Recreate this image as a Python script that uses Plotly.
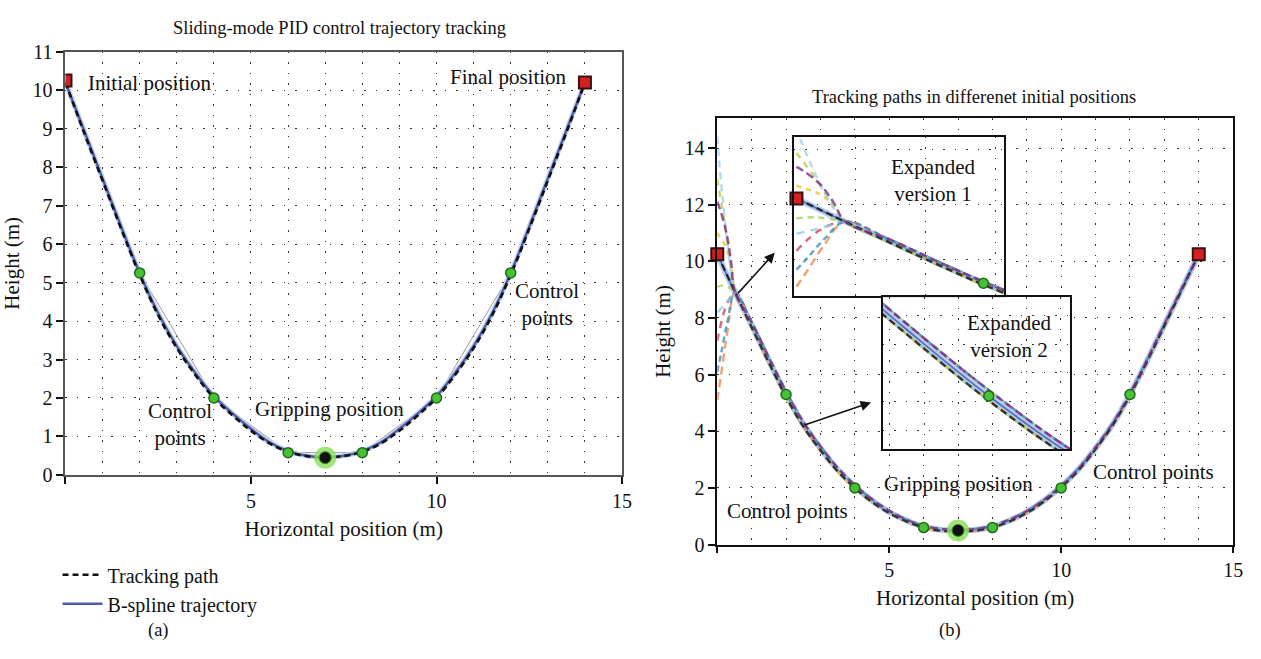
import plotly.graph_objects as go

# ---------------- panel (a): single trajectory ----------------
a_curve_x = [0, 0.5, 1, 1.5, 2, 2.5, 3, 3.5, 4, 4.5, 5, 5.5, 6, 6.5, 7,
             7.5, 8, 8.5, 9, 9.5, 10, 10.5, 11, 11.5, 12, 12.5, 13, 13.5, 14]
a_spline_y = [10.2, 8.95, 7.7, 6.45, 5.25, 4.2, 3.35, 2.65, 2.05, 1.6, 1.2, 0.85, 0.62, 0.5, 0.46,
              0.5, 0.62, 0.85, 1.2, 1.6, 2.05, 2.65, 3.35, 4.2, 5.25, 6.45, 7.7, 8.95, 10.2]
a_track_y = [10.2, 8.9, 7.65, 6.4, 5.2, 4.15, 3.3, 2.6, 2.0, 1.55, 1.15, 0.82, 0.6, 0.49, 0.46,
             0.49, 0.6, 0.82, 1.15, 1.55, 2.0, 2.6, 3.3, 4.15, 5.2, 6.4, 7.65, 8.9, 10.2]
a_poly_x = [0, 2, 4, 6, 8, 10, 12, 14]
a_poly_y = [10.25, 5.25, 2.0, 0.58, 0.58, 2.0, 5.25, 10.25]
a_end_x = [0, 14]
a_end_y = [10.25, 10.2]
a_ctrl_x = [2, 4, 6, 8, 10, 12]
a_ctrl_y = [5.25, 2.0, 0.58, 0.58, 2.0, 5.25]
a_grip_x = [7]
a_grip_y = [0.45]

# ---------------- panel (b): several initial positions ----------------
b_curve_x = [0, 0.52, 1, 1.5, 2, 2.5, 3, 3.5, 4, 4.5, 5, 5.5, 6, 6.5, 7,
             7.5, 8, 8.5, 9, 9.5, 10, 10.5, 11, 11.5, 12, 12.5, 13, 13.5, 14]
b_spline_y = [10.25, 8.9, 7.75, 6.5, 5.3, 4.25, 3.4, 2.65, 2.05, 1.55, 1.15, 0.85, 0.63, 0.52, 0.5,
              0.52, 0.63, 0.85, 1.15, 1.55, 2.05, 2.65, 3.4, 4.25, 5.3, 6.5, 7.75, 9.0, 10.25]
# common part of the tracking paths after they merge (two slightly offset bands)
tail_x = [1, 1.5, 2, 2.5, 3, 3.5, 4, 4.5, 5, 5.5, 6, 6.5, 7,
          7.5, 8, 8.5, 9, 9.5, 10, 10.5, 11, 11.5, 12, 12.5, 13, 13.5, 14]
tail_upper_y = [7.85, 6.6, 5.4, 4.33, 3.47, 2.71, 2.1, 1.6, 1.19, 0.88, 0.66, 0.55, 0.52,
                0.55, 0.66, 0.88, 1.18, 1.58, 2.08, 2.68, 3.43, 4.28, 5.33, 6.53, 7.78, 9.02, 10.25]
tail_lower_y = [7.67, 6.42, 5.22, 4.17, 3.33, 2.59, 2.0, 1.5, 1.11, 0.82, 0.6, 0.49, 0.48,
                0.49, 0.6, 0.82, 1.12, 1.52, 2.02, 2.62, 3.37, 4.22, 5.27, 6.47, 7.72, 8.98, 10.25]

# approach segments from each initial position to the merge point
# (warm colours first, so the cooler ones end up on top of the bundle)
path_colors = ["#ec8a50", "#d0405a", "#f0c020", "#b8cc3c", "#a9d15a",
               "#9fd3ee", "#8fcbe8", "#3a8ec4", "#111111", "#7e2a90"]
path_start_x = [
    [0.0, 0.1, 0.28, 0.52],
    [0.0, 0.14, 0.28, 0.52],
    [0.0, 0.05, 0.25, 0.42, 0.52],
    [0.0, 0.05, 0.18, 0.35, 0.52],
    [0.0, 0.2, 0.4, 0.52],
    [0.0, 0.05, 0.15, 0.3, 0.52],
    [0.0, 0.2, 0.4, 0.52],
    [0.0, 0.12, 0.3, 0.52],
    [0.0, 0.25, 0.52],
    [0.0, 0.05, 0.25, 0.4, 0.52],
]
path_start_y = [
    [5.1, 5.9, 7.4, 8.9],
    [7.2, 7.95, 8.5, 8.9],
    [11.0, 10.9, 10.5, 9.7, 8.9],
    [12.9, 12.55, 11.6, 10.2, 8.9],
    [9.1, 9.15, 9.02, 8.9],
    [14.4, 13.6, 12.3, 10.6, 8.9],
    [8.2, 8.45, 8.75, 8.9],
    [6.1, 6.8, 7.9, 8.9],
    [10.25, 9.6, 8.9],
    [12.1, 11.95, 11.1, 10.0, 8.9],
]
path_band = ["lower", "upper", "lower", "upper", "lower",
             "upper", "lower", "upper", "lower", "upper"]
path_dash = ["8px,5px", "7px,6px", "5px,5px", "6px,6px", "6px,5px",
             "7px,5px", "8px,6px", "6px,4px", "7px,4px", "8px,4px"]

b_end_x = [0, 14]
b_end_y = [10.25, 10.25]
b_ctrl_x = [2, 4, 6, 8, 10, 12]
b_ctrl_y = [5.3, 2.0, 0.6, 0.6, 2.0, 5.3]
b_grip_x = [7]
b_grip_y = [0.5]

FONT = "Liberation Serif, DejaVu Serif, serif"
W, H = 1261, 659

fig = go.Figure()

# ----- panel (a) traces -----
fig.add_trace(go.Scatter(x=a_poly_x, y=a_poly_y, mode="lines", xaxis="x", yaxis="y",
                         line=dict(color="#9a9a9a", width=1), showlegend=False, hoverinfo="skip"))
fig.add_trace(go.Scatter(x=a_curve_x, y=a_spline_y, mode="lines", xaxis="x", yaxis="y",
                         line=dict(color="#c4d2ee", width=5, shape="spline"),
                         showlegend=False, hoverinfo="skip"))
fig.add_trace(go.Scatter(x=a_curve_x, y=a_spline_y, mode="lines", xaxis="x", yaxis="y",
                         name="B-spline trajectory", legendrank=2,
                         line=dict(color="#4a5eab", width=2.4, shape="spline")))
fig.add_trace(go.Scatter(x=a_curve_x, y=a_track_y, mode="lines", xaxis="x", yaxis="y",
                         name="Tracking path", legendrank=1,
                         line=dict(color="#111111", width=2.6, dash="6px,4px", shape="spline")))
fig.add_trace(go.Scatter(x=a_ctrl_x, y=a_ctrl_y, mode="markers", xaxis="x", yaxis="y",
                         marker=dict(size=10, color="#46c236", line=dict(color="#216b17", width=1.5)),
                         showlegend=False))
fig.add_trace(go.Scatter(x=a_grip_x, y=a_grip_y, mode="markers", xaxis="x", yaxis="y",
                         marker=dict(size=22, color="#8fe060", opacity=0.85), showlegend=False))
fig.add_trace(go.Scatter(x=a_grip_x, y=a_grip_y, mode="markers", xaxis="x", yaxis="y",
                         marker=dict(size=12, color="#111111", line=dict(color="#3a8f22", width=1)),
                         showlegend=False))
fig.add_trace(go.Scatter(x=a_end_x, y=a_end_y, mode="markers", xaxis="x", yaxis="y",
                         marker=dict(symbol="square", size=12, color="#d42020",
                                     line=dict(color="#3a1010", width=2)), showlegend=False))


def add_b_traces(xa, ya, end_idx, ctrl_idx, with_grip):
    """Draw the panel (b) trajectories on the given axis pair."""
    fig.add_trace(go.Scatter(x=b_curve_x, y=b_spline_y, mode="lines", xaxis=xa, yaxis=ya,
                             line=dict(color="#b7cdee", width=6, shape="spline"),
                             showlegend=False, hoverinfo="skip"))
    fig.add_trace(go.Scatter(x=b_curve_x, y=b_spline_y, mode="lines", xaxis=xa, yaxis=ya,
                             line=dict(color="#5570c0", width=1.8, shape="spline"),
                             showlegend=False, hoverinfo="skip"))
    for px, py, col, band, dash in zip(path_start_x, path_start_y, path_colors, path_band, path_dash):
        ty = tail_upper_y if band == "upper" else tail_lower_y
        fig.add_trace(go.Scatter(x=px + tail_x, y=py + ty, mode="lines", xaxis=xa, yaxis=ya,
                                 line=dict(color=col, width=2.4, dash=dash, shape="spline"),
                                 opacity=0.8, showlegend=False, hoverinfo="skip"))
    if ctrl_idx:
        fig.add_trace(go.Scatter(x=[b_ctrl_x[i] for i in ctrl_idx], y=[b_ctrl_y[i] for i in ctrl_idx],
                                 mode="markers", xaxis=xa, yaxis=ya, cliponaxis=False,
                                 marker=dict(size=10, color="#46c236", line=dict(color="#216b17", width=1.5)),
                                 showlegend=False))
    if with_grip:
        fig.add_trace(go.Scatter(x=b_grip_x, y=b_grip_y, mode="markers", xaxis=xa, yaxis=ya,
                                 marker=dict(size=22, color="#8fe060", opacity=0.85), showlegend=False))
        fig.add_trace(go.Scatter(x=b_grip_x, y=b_grip_y, mode="markers", xaxis=xa, yaxis=ya,
                                 marker=dict(size=12, color="#111111", line=dict(color="#3a8f22", width=1)),
                                 showlegend=False))
    if end_idx:
        fig.add_trace(go.Scatter(x=[b_end_x[i] for i in end_idx], y=[b_end_y[i] for i in end_idx],
                                 mode="markers", xaxis=xa, yaxis=ya, cliponaxis=False,
                                 marker=dict(symbol="square", size=12, color="#d42020",
                                             line=dict(color="#3a1010", width=2)), showlegend=False))


add_b_traces("x2", "y2", [0, 1], [0, 1, 2, 3, 4, 5], True)
add_b_traces("x3", "y3", [0], [0], False)
add_b_traces("x4", "y4", [], [0], False)

# ----- axes -----
tickfont = dict(family=FONT, size=20, color="#111")
titlefont = dict(family=FONT, size=21, color="#111")
dot_v = "1.5px,9px"
dot_h = "1.5px,10px"

fig.update_layout(
    xaxis=dict(domain=[66 / W, 627 / W], range=[0, 15], tickvals=[0, 5, 10, 15],
               ticktext=["", "5", "10", "15"], ticks="outside", ticklen=7, tickwidth=2,
               tickcolor="#111", showline=True, linecolor="#555", linewidth=2, mirror=True,
               showgrid=True, gridcolor="#333", griddash=dot_v, gridwidth=1,
               minor=dict(dtick=1, tick0=0, showgrid=True, gridcolor="#333", griddash=dot_v, ticks=""),
               zeroline=False, tickfont=tickfont,
               title=dict(text="Horizontal position (m)", font=titlefont, standoff=10),
               anchor="y", fixedrange=True),
    yaxis=dict(domain=[1 - 480 / H, 1 - 42 / H], range=[0, 11], dtick=1, tick0=0,
               ticks="outside", ticklen=7, tickwidth=2, tickcolor="#111",
               showline=True, linecolor="#555", linewidth=2, mirror=True,
               showgrid=True, gridcolor="#333", griddash=dot_h, zeroline=False,
               tickfont=tickfont, title=dict(text="Height (m)", font=titlefont, standoff=8),
               anchor="x", fixedrange=True),
    xaxis2=dict(domain=[723 / W, 1243 / W], range=[0, 15], tickvals=[0, 5, 10, 15],
                ticktext=["", "5", "10", "15"], ticks="outside", ticklen=7, tickwidth=2,
                tickcolor="#111", showline=True, linecolor="#111", linewidth=1.6, mirror=True,
                showgrid=True, gridcolor="#333", griddash=dot_v,
                minor=dict(dtick=1, tick0=0, showgrid=True, gridcolor="#333", griddash=dot_v, ticks=""),
                zeroline=False, tickfont=tickfont,
                title=dict(text="Horizontal position (m)", font=titlefont, standoff=10),
                anchor="y2", fixedrange=True),
    yaxis2=dict(domain=[1 - 552 / H, 1 - 111 / H], range=[0, 15.05], dtick=2, tick0=0,
                ticks="outside", ticklen=7, tickwidth=2, tickcolor="#111",
                showline=True, linecolor="#111", linewidth=1.6, mirror=True,
                showgrid=True, gridcolor="#333", griddash=dot_h, zeroline=False,
                tickfont=tickfont, title=dict(text="Height (m)", font=titlefont, standoff=8),
                anchor="x2", fixedrange=True),
    # inset: expanded version 1
    xaxis3=dict(domain=[800 / W, 1012 / W], range=[-0.03, 2.22], showticklabels=False, ticks="",
                showline=True, linecolor="#111", linewidth=1.6, mirror=True,
                showgrid=True, gridcolor="#333", griddash=dot_v, tick0=0.63, dtick=0.75,
                zeroline=False, anchor="y3", fixedrange=True),
    yaxis3=dict(domain=[1 - 295 / H, 1 - 130 / H], range=[4.55, 13.86], showticklabels=False, ticks="",
                showline=True, linecolor="#111", linewidth=1.6, mirror=True,
                showgrid=True, gridcolor="#333", griddash=dot_h, tick0=9.91, dtick=3.22,
                zeroline=False, anchor="x3", fixedrange=True),
    # inset: expanded version 2
    xaxis4=dict(domain=[890 / W, 1079 / W], range=[1.379, 2.479], showticklabels=False, ticks="",
                showline=True, linecolor="#111", linewidth=1.6, mirror=True,
                showgrid=True, gridcolor="#333", griddash=dot_v, tick0=1.42, dtick=0.2,
                zeroline=False, anchor="y4", fixedrange=True),
    yaxis4=dict(domain=[1 - 453 / H, 1 - 296 / H], range=[4.38, 7.02], showticklabels=False, ticks="",
                showline=True, linecolor="#111", linewidth=1.6, mirror=True,
                showgrid=True, gridcolor="#333", griddash=dot_h, tick0=6.7, dtick=0.5,
                zeroline=False, anchor="x4", fixedrange=True),
    width=W, height=H,
    margin=dict(l=0, r=0, t=0, b=0),
    paper_bgcolor="white", plot_bgcolor="white",
    font=dict(family=FONT, size=20, color="#111"),
    showlegend=True,
    legend=dict(x=58 / W, y=1 - 563 / H, xanchor="left", yanchor="top",
                font=dict(family=FONT, size=20, color="#111"), bgcolor="rgba(0,0,0,0)",
                tracegroupgap=0, itemwidth=40),
)

ann_font = dict(family=FONT, size=21, color="#111")
title_font = dict(family=FONT, size=18.5, color="#111")


def note(text, x, y, xref="paper", yref="paper", xanchor="center", font=ann_font):
    return dict(text=text, x=x, y=y, xref=xref, yref=yref, xanchor=xanchor, yanchor="middle",
                showarrow=False, font=font)


annotations = [
    # titles and panel labels
    note("Sliding-mode PID control trajectory tracking", 342 / W, 1 - 18 / H, font=title_font),
    note("Tracking paths in differenet initial positions", 982 / W, 1 - 89 / H, font=title_font),
    note("(a)", 160 / W, 1 - 641 / H, font=title_font),
    note("(b)", 958 / W, 1 - 641 / H, font=title_font),
    # panel (a) labels
    note("Initial position", 0.56, 10.18, "x", "y", xanchor="left"),
    note("Final position", 13.56, 10.33, "x", "y", xanchor="right"),
    note("Control<br>points", 3.1, 1.31, "x", "y"),
    note("Gripping position", 7.11, 1.71, "x", "y"),
    note("Control<br>points", 12.97, 4.42, "x", "y"),
    # panel (b) labels
    note("Expanded<br>version 1", 940 / W, 1 - 175 / H),
    note("Expanded<br>version 2", 1017 / W, 1 - 337 / H),
    note("Gripping position", 7.01, 2.15, "x2", "y2"),
    note("Control points", 2.03, 1.19, "x2", "y2"),
    note("Control points", 12.67, 2.56, "x2", "y2"),
    # arrows pointing to the expanded views
    dict(text="", x=781 / W, y=1 - 250 / H, xref="paper", yref="paper", axref="pixel", ayref="pixel",
         ax=-38, ay=42, showarrow=True, arrowhead=2, arrowsize=1.3, arrowwidth=1.6, arrowcolor="#111"),
    dict(text="", x=878 / W, y=1 - 405 / H, xref="paper", yref="paper", axref="pixel", ayref="pixel",
         ax=-68, ay=23, showarrow=True, arrowhead=2, arrowsize=1.3, arrowwidth=1.6, arrowcolor="#111"),
]
fig.update_layout(annotations=annotations)

fig.write_html("out.html")
